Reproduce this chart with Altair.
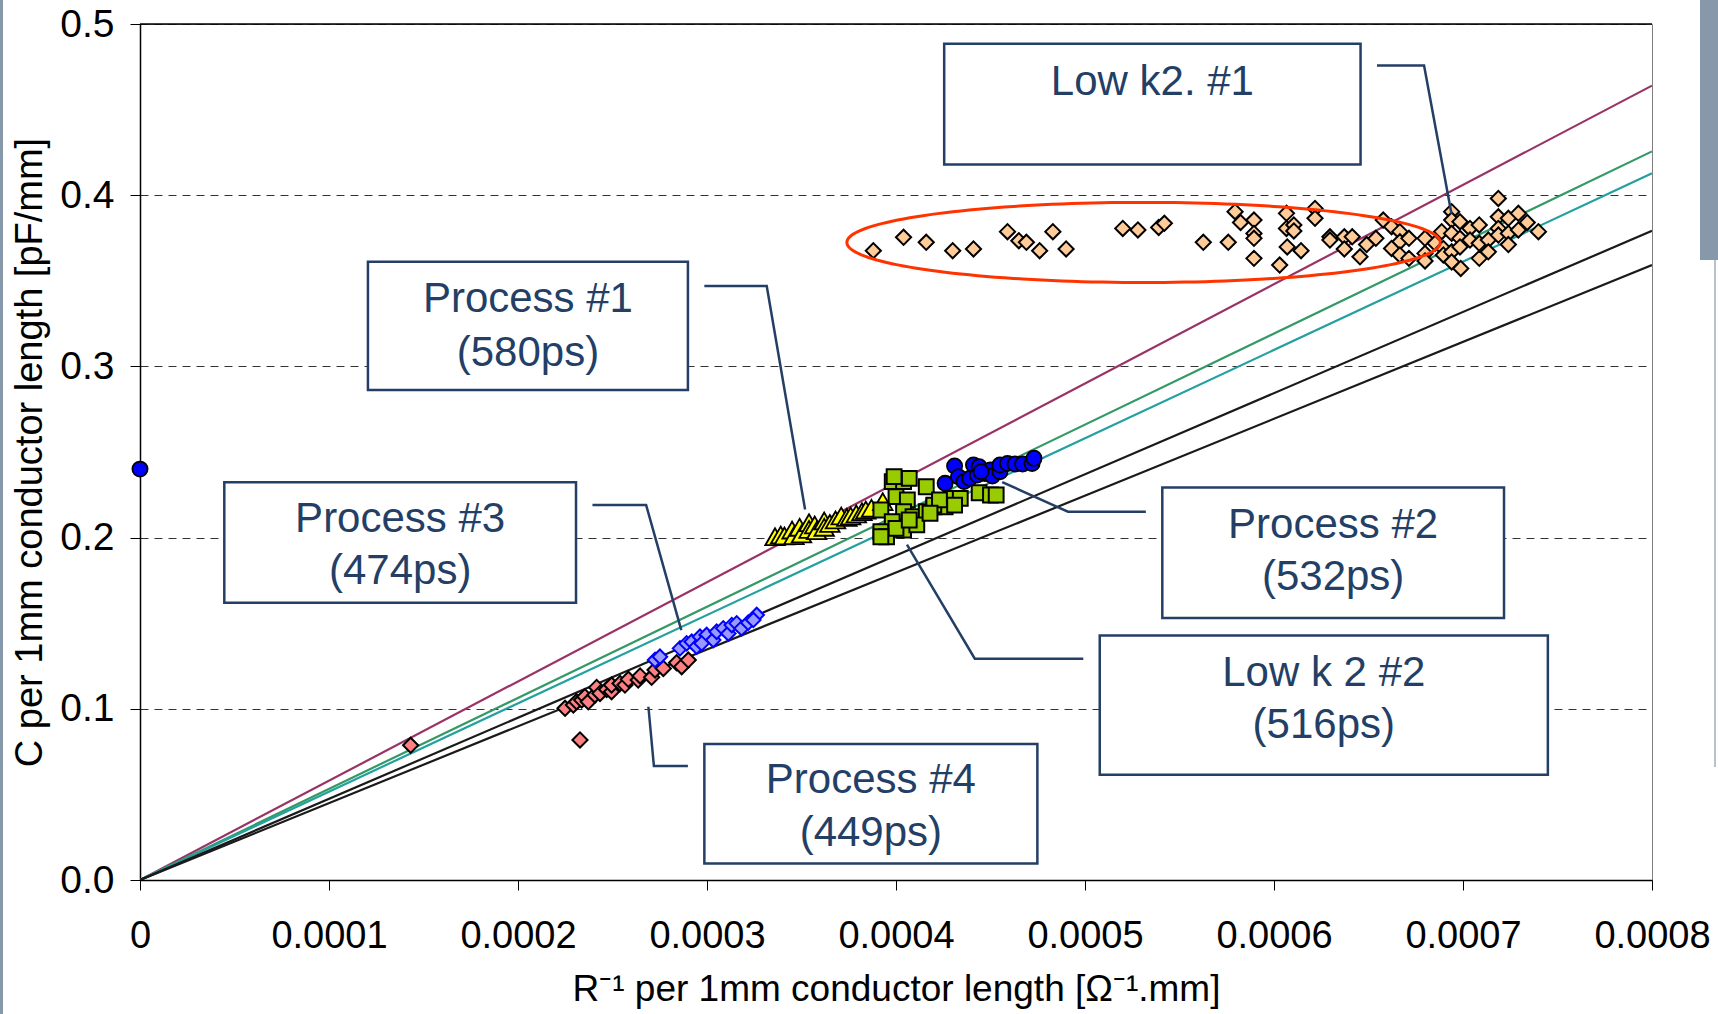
import altair as alt
import numpy as np
import pandas as pd

# ---------------------------------------------------------------------------
# Measured samples: x = R^-1 per 1 mm [1/(Ohm.mm)], y = C per 1 mm [pF/mm]
# ---------------------------------------------------------------------------
lowk1_x = [0.000388, 0.000404, 0.000416, 0.000430, 0.000441, 0.000459, 0.000465,
           0.000469, 0.000476, 0.000483, 0.000490, 0.000520, 0.000528, 0.000539,
           0.000542, 0.0005626, 0.0005758, 0.0005794, 0.0005823, 0.0005894,
           0.0005894, 0.0005894, 0.0005894, 0.000603, 0.0006066, 0.0006066,
           0.0006105, 0.0006105, 0.000607, 0.0006143, 0.0006217, 0.0006217,
           0.0006296, 0.0006296, 0.0006372, 0.0006372, 0.0006414, 0.0006455,
           0.000649, 0.0006539, 0.0006578, 0.0006622, 0.0006666, 0.0006666,
           0.0006622, 0.0006666, 0.0006714, 0.0006714, 0.0006799, 0.0006799,
           0.0006799, 0.0006852, 0.0006887, 0.0006896, 0.0006896, 0.000694,
           0.000694, 0.000694, 0.000694, 0.000694, 0.0006984, 0.0006984,
           0.0006984, 0.0006988, 0.0007037, 0.0007037, 0.0007086, 0.0007086,
           0.0007086, 0.0007134, 0.0007134, 0.0007187, 0.0007187, 0.0007187,
           0.0007187, 0.000724, 0.000724, 0.000724, 0.0007293, 0.0007293,
           0.000734, 0.0007399]
lowk1_y = [0.3676, 0.3754, 0.3725, 0.3676, 0.3686, 0.3787, 0.3734,
           0.3725, 0.3676, 0.3787, 0.3686, 0.3806, 0.3797, 0.3812,
           0.3836, 0.3725, 0.3725, 0.3904, 0.3841, 0.3855,
           0.3777, 0.3748, 0.3631, 0.3592, 0.3894, 0.3806,
           0.3826, 0.3791, 0.3698, 0.3676, 0.3923, 0.3865,
           0.3757, 0.3738, 0.3757, 0.3686, 0.3757, 0.3640,
           0.3712, 0.3748, 0.3855, 0.3816, 0.3787, 0.3728,
           0.3689, 0.3651, 0.3748, 0.3631, 0.3748, 0.3660,
           0.3616, 0.3719, 0.3787, 0.3689, 0.3651, 0.3904,
           0.3855, 0.3777, 0.3669, 0.3610, 0.3845, 0.3748,
           0.3698, 0.3572, 0.3806, 0.3738, 0.3826, 0.3719,
           0.3631, 0.3738, 0.3669, 0.3981, 0.3874, 0.3806,
           0.3767, 0.3865, 0.3777, 0.3712, 0.3894, 0.3797,
           0.3841, 0.3787]

proc4_x = [0.0001432, 0.0002328, 0.0002249, 0.0002293, 0.0002310, 0.0002337,
           0.0002354, 0.0002372, 0.0002407, 0.0002416, 0.0002434, 0.0002469,
           0.0002495, 0.0002495, 0.0002540, 0.0002566, 0.0002584, 0.0002636,
           0.0002646, 0.0002707, 0.0002725, 0.0002769, 0.0002839, 0.0002866,
           0.0002901]
proc4_y = [0.0787, 0.0818, 0.1003, 0.1022, 0.1041, 0.1051,
           0.1071, 0.1041, 0.1081, 0.1125, 0.1090, 0.1113,
           0.1100, 0.1139, 0.1148, 0.1139, 0.1172, 0.1168,
           0.1192, 0.1184, 0.1227, 0.1236, 0.1269, 0.1246,
           0.1285]

proc3_x = [0.0002725, 0.0002751, 0.0002857, 0.0002892, 0.0002919, 0.0002945,
           0.0002963, 0.0002998, 0.0003033, 0.0003051, 0.0003086, 0.0003113,
           0.0003131, 0.0003157, 0.0003183, 0.0003218, 0.0003263, 0.0003245,
           0.0002972]
proc3_y = [0.1285, 0.1304, 0.1353, 0.1382, 0.1392, 0.1363,
           0.1421, 0.1431, 0.1402, 0.1450, 0.1470, 0.1440,
           0.1489, 0.1499, 0.1470, 0.1503, 0.1548, 0.1519,
           0.1382]

proc1_x = [0.000336, 0.000339, 0.000341, 0.000345, 0.000346, 0.000349, 0.000350,
           0.000354, 0.000354, 0.000357, 0.000358, 0.000362, 0.000362, 0.000365,
           0.000368, 0.000371, 0.000374, 0.000376, 0.000379, 0.000382, 0.000384,
           0.000387, 0.000393]
proc1_y = [0.2005, 0.2015, 0.2010, 0.2044, 0.2011, 0.2060, 0.2021,
           0.2087, 0.2048, 0.2074, 0.2040, 0.2097, 0.2060, 0.2083,
           0.2103, 0.2126, 0.2118, 0.2126, 0.2138, 0.2151, 0.2161,
           0.2171, 0.2210]

lowk2_x = [0.000398, 0.000404, 0.000407, 0.000399, 0.000416, 0.000400, 0.000406,
           0.000392, 0.000404, 0.000409, 0.000416, 0.000420, 0.000398, 0.000392,
           0.000395, 0.000404, 0.000411, 0.000400, 0.000407, 0.000392, 0.000426,
           0.000420, 0.000429, 0.000434, 0.000444, 0.000450, 0.000453, 0.000423,
           0.000431, 0.000418]
lowk2_y = [0.2327, 0.2327, 0.2346, 0.2356, 0.2297, 0.2239, 0.2220,
           0.2161, 0.2151, 0.2122, 0.2151, 0.2180, 0.2093, 0.2034,
           0.2005, 0.2044, 0.2074, 0.2054, 0.2103, 0.2005, 0.2180,
           0.2190, 0.2229, 0.2229, 0.2262, 0.2249, 0.2249, 0.2220,
           0.2190, 0.2142]

proc2_x = [0.0, 0.000426, 0.000431, 0.000433, 0.000436, 0.000439, 0.000441,
           0.000443, 0.000444, 0.000447, 0.000450, 0.000451, 0.000455, 0.000455,
           0.000459, 0.000463, 0.000467, 0.000472, 0.000473, 0.000445]
proc2_y = [0.2400, 0.2317, 0.2418, 0.2356, 0.2327, 0.2346, 0.2424,
           0.2366, 0.2414, 0.2375, 0.2395, 0.2360, 0.2385, 0.2424,
           0.2433, 0.2430, 0.2430, 0.2433, 0.2463, 0.2385]

# RC time constants (ps): C = tau * R^-1, drawn as rays from the origin
taus = [580, 532, 516, 474, 449]
tau_colors = ["#993366", "#339966", "#23A0A0", "#1A1A1A", "#1A1A1A"]
tau_widths = [2.2, 2.2, 1.2, 0.6, 0.6]

X_MAX = 0.0008
Y_MAX = 0.5
x_ticks = [0, 0.0001, 0.0002, 0.0003, 0.0004, 0.0005, 0.0006, 0.0007, 0.0008]
y_ticks = [0, 0.1, 0.2, 0.3, 0.4, 0.5]

# Callout boxes (data units): name, time, box x1, x2, y1, y2, line-1 y, line-2 y
callout_name = ["Low k2. #1", "Process #1", "Process #3", "Process #2", "Low k 2 #2", "Process #4"]
callout_time = ["", "(580ps)", "(474ps)", "(532ps)", "(516ps)", "(449ps)"]
box_x1 = [0.0004255, 0.0001206, 0.0000446, 0.0005409, 0.0005078, 0.0002986]
box_x2 = [0.0006458, 0.0002899, 0.0002307, 0.0007217, 0.0007449, 0.0004748]
box_y1 = [0.4885, 0.3611, 0.2324, 0.2292, 0.1428, 0.0794]
box_y2 = [0.4180, 0.2862, 0.1620, 0.1530, 0.0615, 0.0096]
line1_y = [0.4661, 0.3393, 0.2106, 0.2074, 0.1210, 0.0583]
line2_y = [0.4661, 0.3079, 0.1805, 0.1767, 0.0903, 0.0275]

# Leader lines from each box to its cluster (3 vertices each)
leader_x = [[0.0006545, 0.0006794, 0.0006939],
            [0.0002986, 0.0003316, 0.0003519],
            [0.0002394, 0.0002678, 0.0002864],
            [0.0005322, 0.0004910, 0.0004562],
            [0.0004991, 0.0004417, 0.0004058],
            [0.0002899, 0.0002719, 0.0002690]]
leader_y = [[0.4757, 0.4757, 0.3892],
            [0.3470, 0.3470, 0.2164],
            [0.2190, 0.2190, 0.1460],
            [0.2151, 0.2151, 0.2324],
            [0.1293, 0.1293, 0.1959],
            [0.0666, 0.0666, 0.1012]]

# Highlight ellipse around the Low k2 #1 spread
ell_cx, ell_cy = 0.000531, 0.3724
ell_rx, ell_ry = 0.000157, 0.0234

FONT = "Liberation Sans"
NAVY = "#243F66"

# ---------------------------------------------------------------------------
xscale = alt.Scale(domain=[0, X_MAX], nice=False, zero=True)
yscale = alt.Scale(domain=[0, Y_MAX], nice=False, zero=True)
x_title = "R\u207b\u00b9 per 1mm conductor length [\u03a9\u207b\u00b9.mm]"
y_title = "C per 1mm conductor length [pF/mm]"

x_axis = alt.Axis(
    values=x_ticks, labelExpr="datum.value === 0 ? '0' : format(datum.value, '.4f')",
    grid=False, tickSize=10, tickColor="black", tickWidth=1,
    domainColor="black", domainWidth=1.5, labelFlush=False, labelOverlap=False,
    labelFont=FONT, labelFontSize=38, labelColor="black", labelPadding=27,
    titleFont=FONT, titleFontSize=37, titleFontWeight="normal", titleColor="black",
    titlePadding=16,
)
y_axis = alt.Axis(
    values=y_ticks, format=".1f", grid=True, gridColor="#333333", gridDash=[8, 6],
    gridWidth=1, tickSize=10, tickColor="black", tickWidth=1,
    domainColor="black", domainWidth=1.5, labelOverlap=False, labelFlush=False,
    labelFont=FONT, labelFontSize=39, labelColor="black", labelPadding=16,
    titleFont=FONT, titleFontSize=38, titleFontWeight="normal", titleColor="black",
    titlePadding=10,
)


def X(field):
    return alt.X(field, type="quantitative", scale=xscale, axis=x_axis, title=x_title)


def Y(field):
    return alt.Y(field, type="quantitative", scale=yscale, axis=y_axis, title=y_title)


# Rays C = tau * R^-1
rays = pd.DataFrame(
    [{"tau": f"{t}", "x": xv, "y": t * xv} for t in taus for xv in (0.0, X_MAX)]
)
ray_layer = alt.Chart(rays).mark_line(clip=True).encode(
    x=X("x"), y=Y("y"), detail="tau:N",
    color=alt.Color("tau:N", scale=alt.Scale(domain=[str(t) for t in taus], range=tau_colors), legend=None),
    strokeWidth=alt.StrokeWidth("tau:N", scale=alt.Scale(domain=[str(t) for t in taus], range=tau_widths), legend=None),
)

# Scatter series, back to front
series = [
    (lowk1_x, lowk1_y, "diamond", 230, "#FFCC99", "#000000", 2.0),
    (proc4_x, proc4_y, "diamond", 230, "#FF8080", "#000000", 2.0),
    (proc3_x, proc3_y, "diamond", 210, "#9999FF", "#0000FF", 2.0),
    (proc1_x, proc1_y, "triangle-up", 380, "#FFFF00", "#000000", 1.8),
    (lowk2_x, lowk2_y, "square", 220, "#99CC00", "#000000", 2.0),
    (proc2_x, proc2_y, "circle", 230, "#0000FF", "#000000", 1.8),
]
point_layers = []
for sx, sy, shape, size, fill, stroke, sw in series:
    df = pd.DataFrame({"x": sx, "y": sy})
    point_layers.append(
        alt.Chart(df).mark_point(
            shape=shape, size=size, filled=True, fill=fill, stroke=stroke,
            strokeWidth=sw, opacity=1, fillOpacity=1, strokeOpacity=1,
        ).encode(x=X("x"), y=Y("y"))
    )

# Ellipse outline
t = np.linspace(0, 2 * np.pi, 181)
ellipse = pd.DataFrame({
    "x": ell_cx + ell_rx * np.cos(t),
    "y": ell_cy + ell_ry * np.sin(t),
    "k": np.arange(len(t)),
})
ellipse_layer = alt.Chart(ellipse).mark_line(color="#FF3300", strokeWidth=3).encode(
    x=X("x"), y=Y("y"), order="k:Q"
)

# Leader lines
leaders = pd.DataFrame(
    [{"g": i, "k": j, "x": leader_x[i][j], "y": leader_y[i][j]}
     for i in range(len(leader_x)) for j in range(3)]
)
leader_layer = alt.Chart(leaders).mark_line(color=NAVY, strokeWidth=2.5).encode(
    x=X("x"), y=Y("y"), detail="g:N", order="k:Q"
)

# Callout boxes and their text
boxes = pd.DataFrame({"x1": box_x1, "x2": box_x2, "y1": box_y1, "y2": box_y2})
box_layer = alt.Chart(boxes).mark_rect(fill="white", stroke=NAVY, strokeWidth=2.5).encode(
    x=X("x1"), x2="x2", y=Y("y1"), y2="y2"
)
labels = []
for i in range(len(callout_name)):
    cx = (box_x1[i] + box_x2[i]) / 2
    labels.append({"x": cx, "y": line1_y[i], "t": callout_name[i]})
    if callout_time[i]:
        labels.append({"x": cx, "y": line2_y[i], "t": callout_time[i]})
text_layer = alt.Chart(pd.DataFrame(labels)).mark_text(
    font=FONT, fontSize=42, color=NAVY, align="center", baseline="middle"
).encode(x=X("x"), y=Y("y"), text="t:N")

# Solid top frame line
top = pd.DataFrame({"x": [0.0], "x2": [X_MAX], "y": [Y_MAX]})
top_layer = alt.Chart(top).mark_rule(color="black", strokeWidth=1.5).encode(
    x=X("x"), x2="x2", y=Y("y")
)

# Slide edge strips around the chart
edge = alt.Chart(pd.DataFrame({"a": [0]}))
left_strip = edge.mark_rect(color="#8798AA").encode(
    x=alt.value(-140), x2=alt.value(-137), y=alt.value(-24), y2=alt.value(990)
)
right_strip = edge.mark_rect(color="#8798AA").encode(
    x=alt.value(1560), x2=alt.value(1578), y=alt.value(-24), y2=alt.value(236)
)
right_line = edge.mark_rect(color="#B8C2CC").encode(
    x=alt.value(1574), x2=alt.value(1576), y=alt.value(236), y2=alt.value(743)
)

chart = alt.layer(
    ray_layer, *point_layers, ellipse_layer, leader_layer, box_layer, text_layer,
    top_layer, left_strip, right_strip, right_line,
).properties(
    width=1512, height=856,
    padding={"left": 140, "top": 24, "right": 66, "bottom": 134},
    autosize=alt.AutoSizeParams(type="none"),
    background="white",
).configure_view(stroke="#808080", strokeWidth=1)

chart.save("out.html", embed_options={"renderer": "svg", "actions": False})
